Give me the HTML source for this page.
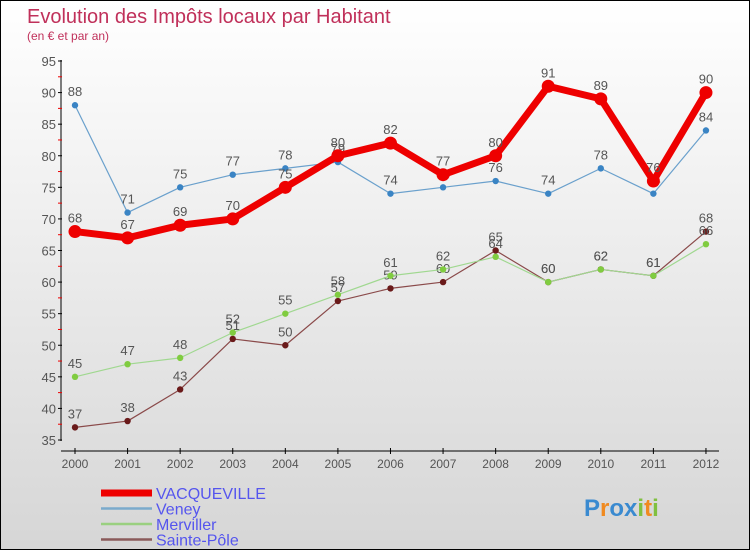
<!DOCTYPE html>
<html><head><meta charset="utf-8"><style>
body{margin:0}
#c{width:748px;height:548px;border:1px solid #000;background:linear-gradient(#ffffff,#d6d6d6);position:relative;overflow:hidden;font-family:"Liberation Sans",sans-serif}
</style></head><body>
<div id="c">
<svg id="s" width="748" height="548"></svg>
</div>
<script>
const years=["2000","2001","2002","2003","2004","2005","2006","2007","2008","2009","2010","2011","2012"];
const yTicks=[35,40,45,50,55,60,65,70,75,80,85,90,95];
const vacqueville=[68,67,69,70,75,80,82,77,80,91,89,76,90];
const veney=[88,71,75,77,78,79,74,75,76,74,78,74,84];
const merviller=[45,47,48,52,55,58,61,62,64,60,62,61,66];
const saintePole=[37,38,43,51,50,57,59,60,65,60,62,61,68];
const NS="http://www.w3.org/2000/svg";
const s=document.getElementById('s');
function el(t,a,p){const e=document.createElementNS(NS,t);for(const k in a)e.setAttribute(k,a[k]);(p||s).appendChild(e);return e;}
const xS=i=>74+i*52.58;
const yS=v=>439-(v-35)*(379/60);
let t=el('text',{x:26,y:22,'font-size':20,fill:'#c0305a'});t.textContent='Evolution des Impôts locaux par Habitant';

t=el('text',{x:26,y:39,'font-size':12,fill:'#c0305a'});t.textContent='(en € et par an)';

let a=el('line',{x1:60,y1:59,x2:60,y2:440,stroke:'#000'});

yTicks.forEach(v=>{el('line',{x1:57,x2:61,y1:yS(v),y2:yS(v),stroke:'#000'});
 if(v<95) el('line',{x1:57,x2:61,y1:yS(v+2.5),y2:yS(v+2.5),stroke:'#e00'});
 const l=el('text',{x:55,y:yS(v)+5,'font-size':13,fill:'#555','text-anchor':'end'});l.textContent=v;
 });
a=el('line',{x1:60,y1:450,x2:718,y2:450,stroke:'#000'});

years.forEach((y,i)=>{el('line',{x1:xS(i),x2:xS(i),y1:447,y2:453,stroke:'#000'});
 const l=el('text',{x:xS(i),y:467,'font-size':12,fill:'#555','text-anchor':'middle'});l.textContent=y;
 });
function series(d,col,w,r,name,dark){
 const g=el('g',{});
 el('polyline',{points:d.map((v,i)=>xS(i)+','+yS(v)).join(' '),fill:'none',stroke:col,'stroke-width':w,'stroke-linejoin':'round'},g);
 d.forEach((v,i)=>{const c=el('circle',{cx:xS(i),cy:yS(v),r:r,fill:dark},g);
  
  const l=el('text',{x:xS(i),y:yS(v)-9,'font-size':13,fill:'#555','text-anchor':'middle'},g);l.textContent=v;});
}
series(saintePole,'#8a4a4a',1.2,3.2,'sainte-pole','#6a1a1a');
series(merviller,'#a0d890',1.2,3.2,'merviller','#80cc40');
series(veney,'#6aa0cc',1.2,3.2,'veney','#3a84c4');
series(vacqueville,'#ee0000',7,6.5,'vacqueville','#ee0000');
const leg=[['VACQUEVILLE','#ee0000',7],['Veney','#7aaacc',2.5],['Merviller','#9ad080',2.5],['Sainte-Pôle','#8a5a5a',2.5]];
leg.forEach((L,i)=>{const y=492+i*15.5;
 const g=el('g',{});
 el('line',{x1:100,x2:151,y1:y,y2:y,stroke:L[1],'stroke-width':L[2]},g);
 const tx=el('text',{x:155,y:y+6,'font-size':16,fill:'#5555ee'},g);tx.textContent=L[0];});
const lg=el('text',{x:583,y:515,'font-size':24,'font-weight':'bold'});

[['P','#3a8ad0'],['r','#f08a20'],['o','#3a8ad0'],['x','#3a8ad0'],['i','#80c040'],['t','#f08a20'],['i','#80c040']].forEach(p=>{const ts=el('tspan',{fill:p[1]},lg);ts.textContent=p[0];});
</script>
</body></html>
